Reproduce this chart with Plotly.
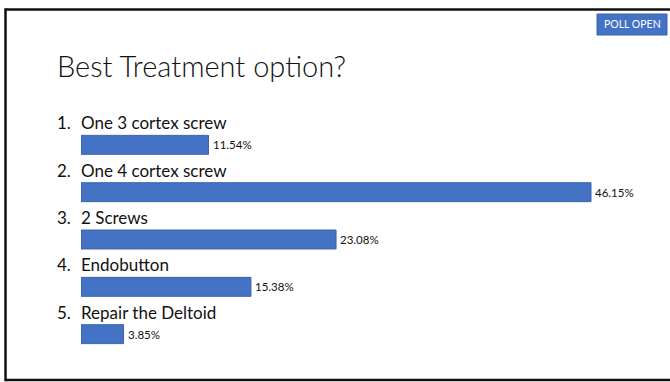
import plotly.graph_objects as go

# ---- data ----
numbers = ["1.", "2.", "3.", "4.", "5."]
options = ["One 3 cortex screw", "One 4 cortex screw", "2 Screws", "Endobutton", "Repair the Deltoid"]
percents = [11.54, 46.15, 23.08, 15.38, 3.85]
title_text = "Best Treatment option?"
badge_text = "POLL OPEN"

W, H = 670, 382
ML, MR, MT, MB = 81, 20, 107, 10
PW, PH = W - ML - MR, H - MT - MB
BLUE = "#4472C4"
FONT = "Lato"


def px(x):
    return (x - ML) / PW


def py(y):
    return (H - MB - y) / PH


ypos = list(range(len(options)))

fig = go.Figure()
fig.add_trace(go.Bar(
    x=percents, y=ypos, orientation="h", width=0.40,
    marker=dict(color=BLUE, line=dict(color="#3b63ab", width=1)),
    hoverinfo="skip",
))

ann = []
for i, (n, o, p) in enumerate(zip(numbers, options, percents)):
    ann.append(dict(x=0, y=i, xref="x", yref="y", text=n, showarrow=False,
                    xanchor="left", yanchor="middle", xshift=-26, yshift=22,
                    font=dict(family=FONT, size=17, color="#111111")))
    ann.append(dict(x=0, y=i, xref="x", yref="y", text=o, showarrow=False,
                    xanchor="left", yanchor="middle", xshift=-2, yshift=22,
                    font=dict(family=FONT, size=17, color="#111111")))
    ann.append(dict(x=p, y=i, xref="x", yref="y", text=f"{p:.2f}%", showarrow=False,
                    xanchor="left", yanchor="middle", xshift=2,
                    font=dict(family=FONT, size=11.5, color="#111111")))

ann.append(dict(x=px(55), y=py(65), xref="paper", yref="paper", text=title_text,
                showarrow=False, xanchor="left", yanchor="middle",
                font=dict(family=FONT, size=29, color="#111111", weight=300)))
ann.append(dict(x=px(632), y=py(24.5), xref="paper", yref="paper", text=badge_text,
                showarrow=False, xanchor="center", yanchor="middle",
                font=dict(family=FONT, size=10.5, color="white")))

frame = dict(color="#111111", width=2.5)
shapes = [
    dict(type="line", xref="paper", yref="paper", x0=px(5.5), x1=px(672), y0=py(9.5), y1=py(9.5), line=frame, layer="above"),
    dict(type="line", xref="paper", yref="paper", x0=px(5.5), x1=px(672), y0=py(380), y1=py(380), line=frame, layer="above"),
    dict(type="line", xref="paper", yref="paper", x0=px(5.5), x1=px(5.5), y0=py(8.3), y1=py(381.2), line=frame, layer="above"),
    dict(type="rect", xref="paper", yref="paper", x0=px(597), x1=px(667), y0=py(35), y1=py(14),
         line=dict(color="#3b63ab", width=1), fillcolor=BLUE, layer="below"),
]

fig.update_layout(
    width=W, height=H, margin=dict(l=ML, r=MR, t=MT, b=MB),
    paper_bgcolor="white", plot_bgcolor="white", showlegend=False,
    xaxis=dict(range=[0, 46.15 * PW / 510], visible=False, fixedrange=True),
    yaxis=dict(range=[4.8, -0.8], visible=False, fixedrange=True),
    annotations=ann, shapes=shapes,
)
fig.write_html("out.html", config={"displayModeBar": False},
               post_script="document.body.style.margin='0px';document.body.style.overflow='hidden';")
